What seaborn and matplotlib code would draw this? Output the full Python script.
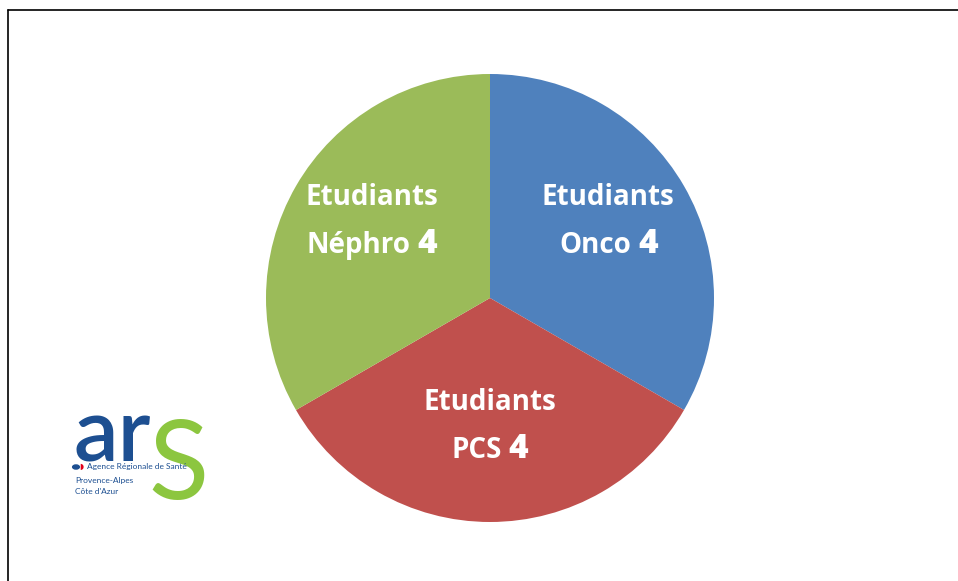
"""
Répartition des étudiants - camembert
"""
import numpy as np
import matplotlib.pyplot as plt
import seaborn as sns
from matplotlib.lines import Line2D
from matplotlib.offsetbox import TextArea, HPacker, AnnotationBbox

# données
categories = ['Onco', 'PCS', 'Néphro']
effectifs = [4, 4, 4]
couleurs = ['#4F81BD', '#C0504D', '#9BBB59']

sns.set_theme(style='white')
plt.rcParams['font.family'] = ['Open Sans', 'DejaVu Sans']

fig = plt.figure(figsize=(9.58, 5.81), dpi=100)
fig.patch.set_facecolor('white')

# cadre (haut et gauche seulement)
fig.add_artist(Line2D([8 / 958, 1.0], [1 - 10 / 581, 1 - 10 / 581],
                      transform=fig.transFigure, color='black', lw=1.2))
fig.add_artist(Line2D([8 / 958, 8 / 958], [0.0, 1 - 10 / 581],
                      transform=fig.transFigure, color='black', lw=1.2))

# axes du camembert
ax = fig.add_axes([266 / 958, 59 / 581, 448 / 958, 448 / 581])
wedges, _ = ax.pie(effectifs, colors=couleurs, startangle=90, counterclock=False,
                   radius=1.0, wedgeprops=dict(linewidth=0))
ax.set_xlim(-1, 1)
ax.set_ylim(-1, 1)
ax.set_aspect('equal')
ax.axis('off')

# étiquettes
for w, nom, n in zip(wedges, categories, effectifs):
    ang = np.deg2rad((w.theta1 + w.theta2) / 2)
    cx, cy = 0.61 * np.cos(ang), 0.61 * np.sin(ang)
    ax.text(cx, cy + 0.145, 'Etudiants', ha='center', va='center',
            color='white', fontsize=20, fontweight='bold')
    ligne = HPacker(children=[
        TextArea(nom, textprops=dict(color='white', fontsize=20, fontweight='bold')),
        TextArea(str(n), textprops=dict(color='white', fontsize=24, fontweight='heavy')),
    ], align='baseline', pad=0, sep=5)
    ab = AnnotationBbox(ligne, (cx, cy - 0.065), frameon=False,
                        box_alignment=(0.5, 0.5))
    ax.add_artist(ab)

# logo ARS
bleu_ars = '#1D4F91'
fig.text(74 / 958, 1 - 462 / 581, 'ar', color=bleu_ars, fontsize=64,
         family='Lato', fontweight='semibold', ha='left', va='baseline')
fig.text(148 / 958, 1 - 499 / 581, 'S', color='#8CC63F', fontsize=80,
         family='Lato', ha='left', va='baseline')
fig.add_artist(plt.Circle((76 / 958, 1 - 467 / 581), 0.0035, color=bleu_ars,
                          transform=fig.transFigure))
fig.text(79.5 / 958, 1 - 467 / 581, '◗', color='#E2001A', fontsize=5.5,
         family='DejaVu Sans', ha='left', va='center')
fig.text(87 / 958, 1 - 467 / 581, 'Agence Régionale de Santé', color=bleu_ars,
         fontsize=6.0, family='Lato', ha='left', va='center')
fig.text(75 / 958, 1 - 480 / 581, 'Provence-Alpes', color=bleu_ars,
         fontsize=6.0, family='Lato', ha='left', va='center')
fig.text(75 / 958, 1 - 491 / 581, "Côte d'Azur", color=bleu_ars,
         fontsize=6.0, family='Lato', ha='left', va='center')

fig.savefig('out.png', dpi=100, facecolor='white')
plt.close(fig)
